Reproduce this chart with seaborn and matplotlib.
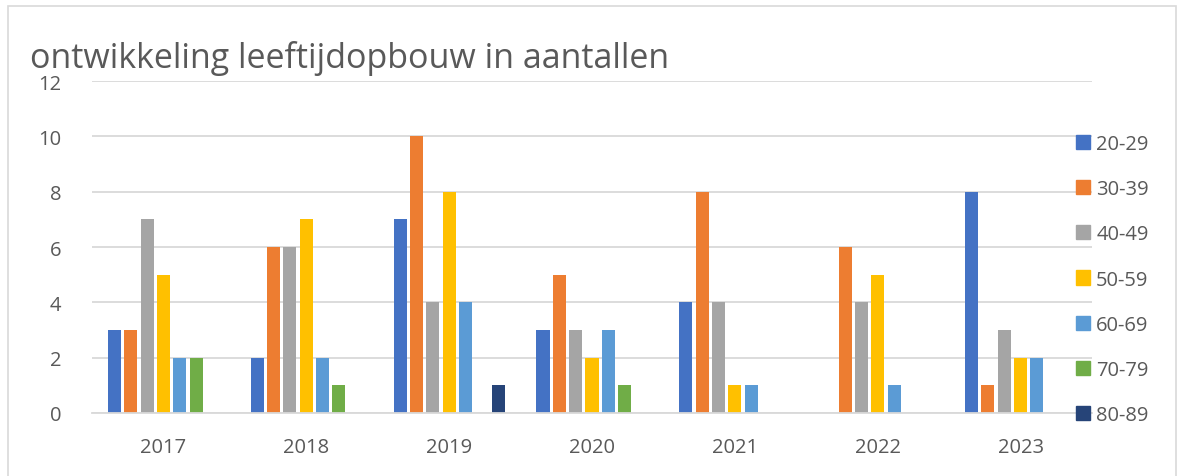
import matplotlib
matplotlib.use('Agg')
import matplotlib.pyplot as plt
import matplotlib.patches as mpatches
import seaborn as sns
import pandas as pd

years = ['2017', '2018', '2019', '2020', '2021', '2022', '2023']
groups = ['20-29', '30-39', '40-49', '50-59', '60-69', '70-79', '80-89']
counts = {
    '20-29': [3, 2, 7, 3, 4, 0, 8],
    '30-39': [3, 6, 10, 5, 8, 6, 1],
    '40-49': [7, 6, 4, 3, 4, 4, 3],
    '50-59': [5, 7, 8, 2, 1, 5, 2],
    '60-69': [2, 2, 4, 3, 1, 1, 2],
    '70-79': [2, 1, 0, 1, 0, 0, 0],
    '80-89': [0, 0, 1, 0, 0, 0, 0],
}
colors = ['#4472C4', '#ED7D31', '#A5A5A5', '#FFC000', '#5B9BD5', '#70AD47', '#264478']

rows = []
for g in groups:
    for y, v in zip(years, counts[g]):
        rows.append({'jaar': y, 'leeftijd': g, 'aantal': v})
df = pd.DataFrame(rows)

sns.set_theme(style="white")
plt.rcParams['font.family'] = ['Open Sans', 'DejaVu Sans']
txt = '#595959'

fig = plt.figure(figsize=(11.77, 4.77), dpi=100)
ax = fig.add_axes([92 / 1177, 1 - 414 / 477, 1000 / 1177, 332 / 477])

sns.barplot(data=df, x='jaar', y='aantal', hue='leeftijd', order=years, hue_order=groups,
            palette=dict(zip(groups, colors)), width=0.8, gap=0.2, ax=ax, legend=False,
            saturation=1, linewidth=0)

ax.set_ylim(0, 12)
ax.set_yticks(range(0, 13, 2))
ax.set_xlim(-0.5, 6.5)
ax.yaxis.grid(True, color='#D9D9D9', linewidth=1.3)
ax.set_axisbelow(True)
for s in ['top', 'right', 'left']:
    ax.spines[s].set_visible(False)
ax.spines['bottom'].set_color('#D9D9D9')
ax.spines['bottom'].set_linewidth(1.3)
ax.tick_params(axis='both', length=0, labelsize=14.5, labelcolor=txt)
ax.tick_params(axis='y', pad=22)
ax.tick_params(axis='x', pad=17)
ax.set_xlabel('')
ax.set_ylabel('')

fig.text(30 / 1177, 1 - 68 / 477, 'ontwikkeling leeftijdopbouw in aantallen', fontsize=24.5,
         color=txt, ha='left', va='baseline')

handles = [mpatches.Patch(color=c, label=g) for g, c in zip(groups, colors)]
fig.legend(handles=handles, loc='upper left', bbox_to_anchor=(1076 / 1177, 1 - 135 / 477),
           frameon=False, fontsize=14.5, labelcolor=txt, handlelength=0.7, handleheight=0.7,
           handletextpad=0.3, labelspacing=1.25, borderaxespad=0, borderpad=0)

fig.patches.append(mpatches.Rectangle((8 / 1177, -0.1), 1168 / 1177, 1.1 - 7 / 477,
                                      transform=fig.transFigure, fill=False,
                                      edgecolor='#D9D9D9', linewidth=1.2))

fig.savefig('out.png', dpi=100)
